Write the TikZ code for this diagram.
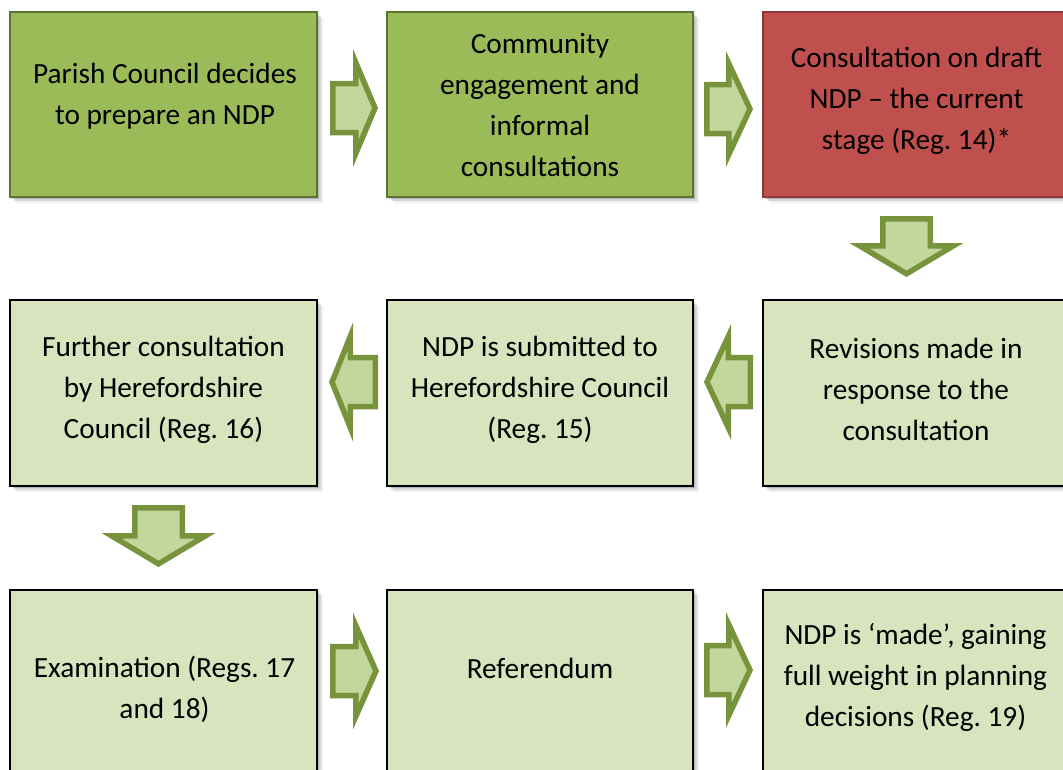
\documentclass[tikz,border=0pt]{standalone}
\usepackage{fontspec}
\setmainfont{Carlito}
\frenchspacing
\usetikzlibrary{shadows}
\definecolor{gfill}{HTML}{9BBB59}
\definecolor{gline}{HTML}{5B7333}
\definecolor{rfill}{HTML}{C0504D}
\definecolor{rline}{HTML}{8C3A38}
\definecolor{lfill}{HTML}{D7E4BD}
\definecolor{afill}{HTML}{C3D69B}
\definecolor{aline}{HTML}{77933C}
\tikzset{
  softshadow/.style={
    general shadow={shadow xshift=1.5pt,shadow yshift=-1.5pt,fill=black,opacity=.16},
    general shadow={shadow xshift=3.5pt,shadow yshift=-3.5pt,fill=black,opacity=.11},
    general shadow={shadow xshift=5.5pt,shadow yshift=-5.5pt,fill=black,opacity=.06}},
  box/.style={rectangle,minimum height=185pt,inner sep=0pt,line width=2pt,softshadow},
  greenbox/.style={box,fill=gfill,draw=gline},
  redbox/.style={box,fill=rfill,draw=rline},
  lightbox/.style={box,fill=lfill,draw=black},
  txt/.style={font=\fontsize{29.3}{41}\selectfont,align=center,inner sep=0pt,text=black},
  blockarrow/.style={fill=afill,draw=aline,line width=5.5pt,line join=miter}
}
\newcommand\rightblock[4]{%
  \draw[blockarrow] ({#1+2.75},{#4-24.5}) -- ({#2+2.75},{#4-24.5}) -- ({#2+2.75},{#4-45.5})
    -- ({#3-3},#4) -- ({#2+2.75},{#4+45.5}) -- ({#2+2.75},{#4+24.5}) -- ({#1+2.75},{#4+24.5}) -- cycle;}
\newcommand\leftblock[4]{%
  \draw[blockarrow] ({#3-2.75},{#4-24.5}) -- ({#2-2.75},{#4-24.5}) -- ({#2-2.75},{#4-45.5})
    -- ({#1+3},#4) -- ({#2-2.75},{#4+45.5}) -- ({#2-2.75},{#4+24.5}) -- ({#3-2.75},{#4+24.5}) -- cycle;}
\newcommand\downblock[4]{%
  \draw[blockarrow] ({#1-23.75},{#2+2.75}) -- ({#1+23.75},{#2+2.75}) -- ({#1+23.75},{#3+2.75})
    -- ({#1+47},{#3+2.75}) -- (#1,{#4-3.2}) -- ({#1-47},{#3+2.75}) -- ({#1-23.75},{#3+2.75}) -- cycle;}
\begin{document}
\begin{tikzpicture}[x=1pt,y=-1pt]
\clip (0,0) rectangle (1063,769);
\fill[white] (0,0) rectangle (1063,769);
% boxes
\node[greenbox,minimum width=307pt] (b1) at (163.5,104.5) {};
\node[greenbox,minimum width=306pt] (b2) at (540,104.5) {};
\node[redbox,minimum width=307pt] (b3) at (916.5,104.5) {};
\node[lightbox,minimum width=307pt,minimum height=186pt] (b4) at (163.5,393) {};
\node[lightbox,minimum width=306pt,minimum height=186pt] (b5) at (540,393) {};
\node[lightbox,minimum width=307pt,minimum height=186pt] (b6) at (916.5,393) {};
\node[lightbox,minimum width=307pt] (b7) at (163.5,682) {};
\node[lightbox,minimum width=306pt] (b8) at (540,682) {};
\node[lightbox,minimum width=307pt] (b9) at (916.5,682) {};
% texts
\node[txt] (t1) at (165,96) {Parish Council decides\\to prepare an NDP};
\node[txt] (t2) at (540,105) {Community\\engagement and\\informal\\consultations};
\node[txt] (t3) at (916.5,100.5) {Consultation on draft\\NDP – the current\\stage (Reg. 14)*};
\node[txt] (t4) at (163.5,389.5) {Further consultation\\by Herefordshire\\Council (Reg. 16)};
\node[txt] (t5) at (540,389.5) {NDP is submitted to\\Herefordshire Council\\(Reg. 15)};
\node[txt] (t6) at (916,389.5) {Revisions made in\\response to the\\consultation};
\node[txt] (t7) at (164.5,689) {Examination (Regs. 17\\and 18)};
\node[txt] (t8) at (540,668.5) {Referendum};
\node[txt] (t9) at (915.5,677.5) {NDP is ‘made’, gaining\\full weight in planning\\decisions (Reg. 19)};
% block arrows
\rightblock{330}{353}{378}{108}
\rightblock{704}{726}{753}{109}
\downblock{906.5}{216}{243}{277}
\leftblock{704}{731}{753}{382}
\leftblock{329}{353}{378}{382}
\downblock{158.5}{505}{533}{567}
\rightblock{330}{353}{379}{671}
\rightblock{704}{726}{753}{670}
\end{tikzpicture}
\end{document}
